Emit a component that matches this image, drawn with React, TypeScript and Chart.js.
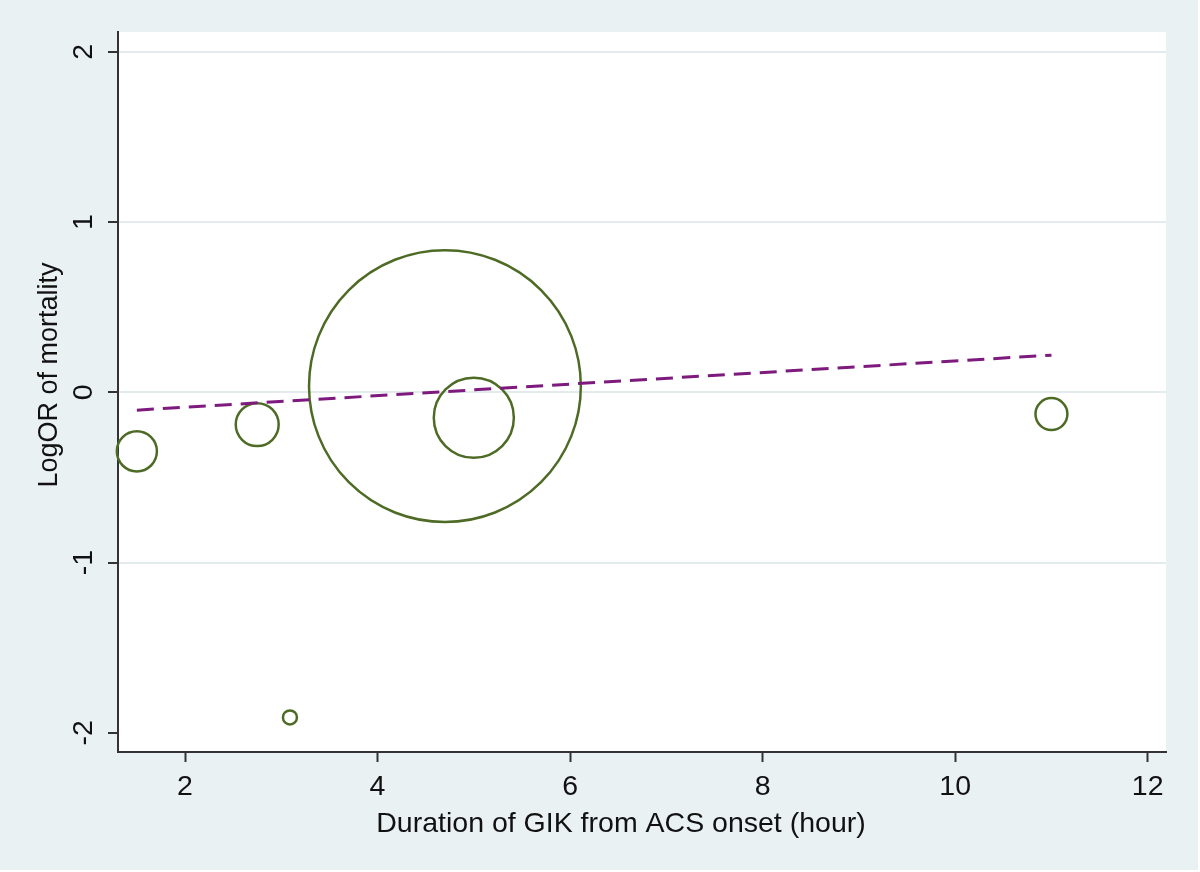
import React, { useEffect, useRef } from "react";
import { Chart, registerables } from "chart.js";

Chart.register(...registerables);

// Study-level data (duration of GIK from ACS onset, logOR of mortality, study weight)
const durations = [1.5, 2.75, 3.09, 4.7, 5.0, 11.0];
const logORs = [-0.347, -0.19, -1.91, 0.036, -0.15, -0.128];
const weights = [8.2, 9.4, 1.0, 377, 32.7, 5.2];

// Meta-regression fitted line endpoints
const fitX = [1.5, 11.0];
const fitY = [-0.105, 0.218];

const xTickValues = [2, 4, 6, 8, 10, 12];
const yTickValues = [-2, -1, 0, 1, 2];

const xTitle = "Duration of GIK from ACS onset (hour)";
const yTitle = "LogOR of mortality";

const FONT = "'Liberation Sans', Arial, sans-serif";
const BG = "#EAF1F3";

export default function App() {
  const ref = useRef<HTMLCanvasElement | null>(null);

  useEffect(() => {
    document.body.style.margin = "0";
    const canvas = ref.current;
    if (!canvas) return;

    const bgPlugin = {
      id: "stataBg",
      beforeDraw(chart: any) {
        const { ctx, chartArea } = chart;
        ctx.save();
        ctx.fillStyle = "#ffffff";
        ctx.fillRect(0, 0, chart.width, chart.height);
        ctx.fillStyle = BG;
        ctx.fillRect(0, 0, chart.width - 2, chart.height - 2);
        ctx.fillStyle = "#ffffff";
        ctx.fillRect(chartArea.left, chartArea.top, chartArea.right - chartArea.left, chartArea.bottom - chartArea.top);
        ctx.restore();
      },
      afterDraw(chart: any) {
        const { ctx } = chart;
        ctx.save();
        ctx.fillStyle = "#111111";
        ctx.textAlign = "center";
        ctx.textBaseline = "middle";
        ctx.font = `28.5px ${FONT}`;
        ctx.fillText(xTitle, 621, 824);
        ctx.translate(50, 375);
        ctx.rotate(-Math.PI / 2);
        ctx.font = `27px ${FONT}`;
        ctx.fillText(yTitle, 0, 0);
        ctx.restore();
      },
    };

    const chart = new Chart(canvas, {
      type: "bubble",
      data: {
        datasets: [
          {
            type: "line",
            label: "Fit",
            data: fitX.map((x, i) => ({ x, y: fitY[i] })),
            borderColor: "#7E1A7E",
            borderWidth: 3,
            borderDash: [17, 9],
            pointRadius: 0,
            fill: false,
          } as any,
          {
            type: "bubble",
            label: "Studies",
            data: durations.map((x, i) => ({ x, y: logORs[i], r: 7 * Math.sqrt(weights[i]) })),
            backgroundColor: "rgba(0,0,0,0)",
            borderColor: "#4E6B26",
            borderWidth: 2.5,
            clip: false,
          } as any,
        ],
      },
      options: {
        responsive: false,
        animation: false,
        events: [],
        layout: { autoPadding: false, padding: { left: 0, right: 34, top: 32, bottom: 0 } },
        plugins: {
          legend: { display: false },
          tooltip: { enabled: false },
          title: { display: false },
        },
        scales: {
          x: {
            type: "linear",
            min: 1.304,
            max: 12.19,
            afterFit(scale: any) {
              scale.height = 120;
            },
            afterBuildTicks(scale: any) {
              scale.ticks = xTickValues.map((v) => ({ value: v }));
            },
            border: { display: true, color: "#333333", width: 2 },
            grid: {
              drawOnChartArea: false,
              drawTicks: true,
              tickLength: 10,
              tickColor: "#333333",
              tickWidth: 2,
            },
            ticks: {
              color: "#111111",
              font: { family: FONT, size: 28.5 },
              padding: 8,
              maxRotation: 0,
              minRotation: 0,
            },
          },
          y: {
            type: "linear",
            min: -2.113,
            max: 2.116,
            afterFit(scale: any) {
              scale.width = 118;
            },
            afterBuildTicks(scale: any) {
              scale.ticks = yTickValues.map((v) => ({ value: v }));
            },
            border: { display: true, color: "#333333", width: 2 },
            grid: {
              drawOnChartArea: true,
              drawTicks: true,
              tickLength: 10,
              lineWidth: 2,
              color: (c: any) => (c.tick && c.tick.value === -2 ? "rgba(0,0,0,0)" : "#E3EBED"),
              tickColor: "#333333",
              tickWidth: 2,
            },
            ticks: {
              color: "#111111",
              font: { family: FONT, size: 28.5 },
              padding: 11,
              minRotation: 90,
              maxRotation: 90,
              crossAlign: "center",
            },
          },
        },
      },
      plugins: [bgPlugin],
    });

    return () => {
      chart.destroy();
    };
  }, []);

  return <canvas ref={ref} width={1200} height={872} style={{ display: "block" }} />;
}
